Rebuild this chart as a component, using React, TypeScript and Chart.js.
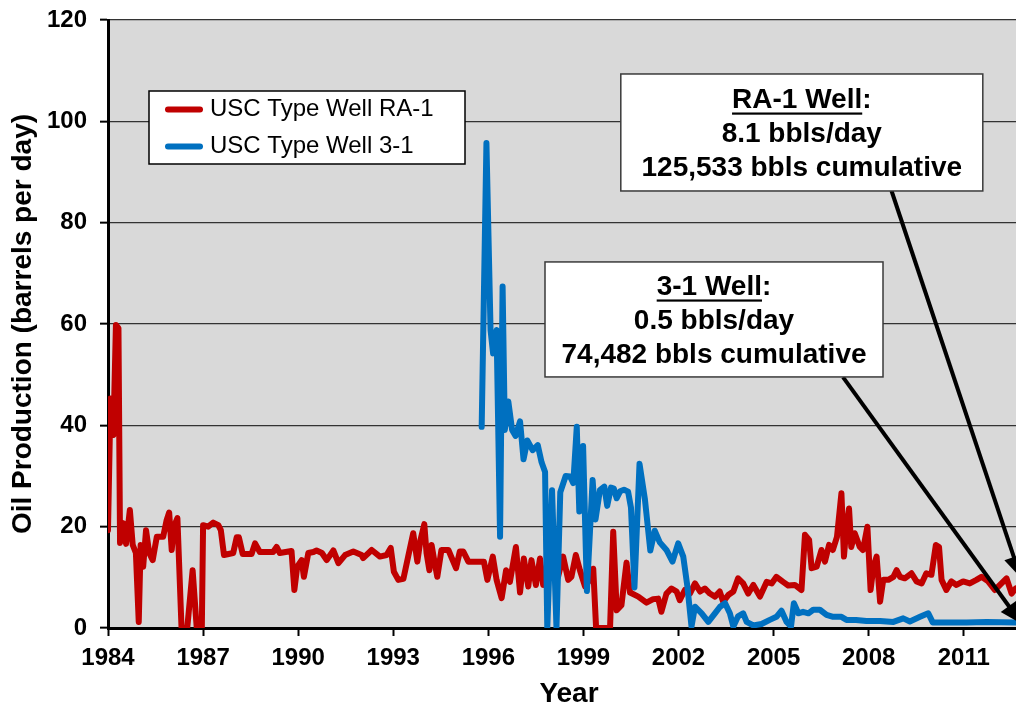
import React, { useEffect, useRef } from "react";
import { Chart, registerables } from "chart.js";

Chart.register(...registerables);

const FONT = "'Liberation Sans', Arial, Helvetica, sans-serif";

// ---- Data ----
const ra1Years = [
  1984.0, 1984.08, 1984.17, 1984.25, 1984.33, 1984.38, 1984.48, 1984.57, 1984.69, 1984.78,
  1984.88, 1984.97, 1985.03, 1985.11, 1985.2, 1985.3, 1985.41, 1985.54, 1985.74, 1985.85,
  1985.93, 1986.01, 1986.08, 1986.19, 1986.32, 1986.5, 1986.67, 1986.8, 1986.96, 1987.0,
  1987.16, 1987.32, 1987.48, 1987.56, 1987.66, 1987.95, 1988.06, 1988.13, 1988.25, 1988.53,
  1988.64, 1988.79, 1989.21, 1989.32, 1989.42, 1989.79, 1989.88, 1989.97, 1990.11, 1990.18,
  1990.32, 1990.48, 1990.58, 1990.75, 1990.9, 1991.11, 1991.27, 1991.48, 1991.74, 1992.0,
  1992.05, 1992.32, 1992.58, 1992.79, 1992.92, 1993.02, 1993.16, 1993.32, 1993.47, 1993.63,
  1993.76, 1993.86, 1993.98, 1994.05, 1994.14, 1994.21, 1994.28, 1994.39, 1994.52, 1994.74,
  1994.98, 1995.1, 1995.21, 1995.37, 1995.63, 1995.86, 1995.97, 1996.14, 1996.26, 1996.42,
  1996.56, 1996.68, 1996.87, 1997.0, 1997.12, 1997.26, 1997.36, 1997.5, 1997.63, 1997.73,
  1997.89, 1998.04, 1998.2, 1998.36, 1998.52, 1998.62, 1998.76, 1998.89, 1999.05, 1999.2,
  1999.31, 1999.4, 1999.84, 1999.94, 2000.05, 2000.2, 2000.36, 2000.47, 2000.73, 2000.99,
  2001.2, 2001.36, 2001.46, 2001.62, 2001.78, 2001.94, 2002.04, 2002.2, 2002.36, 2002.52,
  2002.68, 2002.83, 2002.99, 2003.15, 2003.3, 2003.41, 2003.57, 2003.73, 2003.88, 2004.04,
  2004.2, 2004.36, 2004.57, 2004.78, 2004.94, 2005.09, 2005.3, 2005.46, 2005.67, 2005.88,
  2005.99, 2006.12, 2006.2, 2006.36, 2006.51, 2006.62, 2006.75, 2006.87, 2007.0, 2007.14,
  2007.22, 2007.29, 2007.38, 2007.45, 2007.56, 2007.72, 2007.82, 2007.96, 2008.06, 2008.15,
  2008.25, 2008.36, 2008.46, 2008.62, 2008.78, 2008.88, 2008.99, 2009.14, 2009.35, 2009.51,
  2009.67, 2009.82, 2009.98, 2010.12, 2010.22, 2010.3, 2010.45, 2010.61, 2010.77, 2010.98,
  2011.19, 2011.4, 2011.56, 2011.77, 2011.98, 2012.19, 2012.35, 2012.51, 2012.64, 2012.8,
  2013.0,
];
const ra1Values = [
  19.3, 45.3, 38.1, 59.8, 59.2, 16.8, 20.7, 16.6, 23.3, 16.4,
  14.8, 1.2, 16.4, 12.1, 19.3, 14.8, 13.4, 18.0, 18.0, 21.3,
  22.8, 15.4, 20.0, 21.7, 0, 0, 11.4, 0, 0, 20.3,
  20.0, 20.8, 20.3, 19.3, 14.4, 14.8, 17.9, 17.9, 14.6, 14.6,
  16.7, 15.0, 15.0, 16.0, 14.8, 15.2, 7.5, 12.1, 13.4, 10.1,
  14.8, 15.0, 15.3, 14.8, 13.4, 15.3, 12.8, 14.4, 15.1, 14.4,
  13.8, 15.4, 14.1, 14.4, 15.8, 11.1, 9.5, 9.7, 14.1, 18.7,
  13.1, 17.4, 20.5, 14.8, 11.4, 16.4, 13.8, 10.1, 15.4, 15.4,
  11.8, 15.1, 15.1, 13.1, 13.1, 13.1, 9.5, 14.1, 9.5, 5.9,
  11.4, 9.1, 16.0, 7.0, 13.7, 8.2, 13.4, 8.5, 13.7, 8.5,
  12.8, 12.4, 10.1, 14.1, 9.5, 10.1, 14.4, 11.4, 8.2, 9.5,
  11.7, 0, 0, 19.0, 3.5, 4.5, 12.9, 7.0, 6.2, 5.0,
  5.7, 5.8, 3.2, 6.8, 7.8, 7.2, 5.5, 7.5, 6.8, 8.8,
  7.2, 7.8, 6.8, 6.2, 7.2, 5.2, 6.5, 7.2, 9.8, 8.8,
  6.8, 8.5, 6.2, 9.1, 8.8, 10.1, 9.1, 8.4, 8.5, 7.5,
  18.4, 17.4, 11.8, 12.1, 15.4, 13.1, 16.4, 15.4, 18.0, 26.6,
  14.1, 19.4, 23.6, 16.0, 18.7, 16.0, 15.4, 20.0, 7.5, 12.1,
  14.1, 5.2, 9.5, 9.5, 10.1, 11.4, 10.1, 9.8, 10.8, 9.2,
  8.8, 10.8, 10.5, 16.4, 16.0, 9.5, 7.5, 9.2, 8.5, 9.2,
  8.8, 9.5, 10.1, 9.2, 7.5, 8.8, 9.8, 6.8, 7.8, 8.1,
  8.1,
];

const w31Years = [
  1995.79, 1995.94, 1996.07, 1996.15, 1996.26, 1996.37, 1996.45, 1996.52, 1996.63, 1996.75,
  1996.86, 1997.0, 1997.11, 1997.23, 1997.4, 1997.56, 1997.68, 1997.79, 1997.86, 1998.01,
  1998.15, 1998.27, 1998.44, 1998.58, 1998.68, 1998.79, 1998.87, 1998.99, 1999.11, 1999.29,
  1999.38, 1999.52, 1999.66, 1999.75, 1999.87, 1999.96, 2000.05, 2000.16, 2000.28, 2000.41,
  2000.5, 2000.61, 2000.77, 2000.94, 2001.11, 2001.25, 2001.41, 2001.62, 2001.81, 2001.99,
  2002.15, 2002.28, 2002.41, 2002.52, 2002.73, 2002.94, 2003.15, 2003.31, 2003.47, 2003.62,
  2003.73, 2003.88, 2004.04, 2004.15, 2004.36, 2004.62, 2004.88, 2005.09, 2005.25, 2005.41,
  2005.55, 2005.64, 2005.78, 2005.93, 2006.1, 2006.25, 2006.46, 2006.67, 2006.88, 2007.14,
  2007.3, 2007.6, 2007.93, 2008.36, 2008.78, 2009.09, 2009.3, 2009.62, 2009.88, 2010.02,
  2010.45, 2011.09, 2011.72, 2012.64, 2013.0,
];
const w31Values = [
  39.7, 95.7, 58.8, 54.2, 58.8, 18.0, 67.4, 39.1, 44.7, 39.1,
  37.9, 40.8, 33.3, 37.0, 35.1, 36.1, 32.7, 30.8, 0, 27.2,
  0, 26.8, 30.0, 29.9, 28.6, 39.7, 23.0, 35.9, 7.3, 29.2,
  21.4, 27.2, 27.9, 24.1, 27.7, 27.5, 25.6, 27.0, 27.3, 26.9,
  23.8, 8.0, 32.4, 25.4, 15.3, 19.2, 16.9, 15.4, 13.1, 16.7,
  14.1, 8.2, 0.3, 4.2, 2.9, 1.2, 2.9, 4.2, 4.9, 2.9,
  0.3, 2.3, 2.9, 1.2, 0.5, 0.8, 1.6, 2.2, 3.4, 1.2,
  0.3, 4.9, 2.9, 3.2, 2.9, 3.6, 3.6, 2.6, 2.2, 2.2,
  1.6, 1.6, 1.4, 1.4, 1.2, 1.9, 1.3, 2.2, 2.9, 1.1,
  1.1, 1.1, 1.2, 1.1, 1.1,
];

const seriesNames = ["USC Type Well RA-1", "USC Type Well 3-1"];
const seriesColors = ["#c00000", "#0070c0"];
const xTickYears = [1984, 1987, 1990, 1993, 1996, 1999, 2002, 2005, 2008, 2011];
const xMin = 1984;
const xMax = 2013.09;
const yMin = 0;
const yMax = 120;
const yStep = 20;
const xTitle = "Year";
const yTitle = "Oil Production (barrels per day)";

const noteRA1Lines = ["RA-1 Well:", "8.1 bbls/day", "125,533 bbls cumulative"];
const note31Lines = ["3-1 Well:", "0.5 bbls/day", "74,482 bbls cumulative"];

// annotation anchors in data coordinates
const notes = [
  { cx: 2005.89, cy: 97.8, w: 362, h: 117, lines: noteRA1Lines, under: "RA-1 Well" },
  { cx: 2003.12, cy: 60.9, w: 338, h: 115, lines: note31Lines, under: "3-1 Well" },
];
const arrows = [
  { from: [2008.72, 86.3], to: [2012.8, 9.9] },
  { from: [2007.19, 49.5], to: [2012.83, 0.8] },
];

const bgPlugin = {
  id: "plotBg",
  beforeDraw(chart: any) {
    const { ctx, chartArea: a } = chart;
    ctx.save();
    ctx.fillStyle = "#d9d9d9";
    ctx.fillRect(a.left, a.top, a.right - a.left, a.bottom - a.top);
    ctx.restore();
  },
};

const overlayPlugin = {
  id: "overlay",
  afterDraw(chart: any) {
    const { ctx, chartArea: a } = chart;
    const xs = chart.scales.x;
    const ys = chart.scales.y;
    ctx.save();

    // Legend
    const lx = a.left + 41;
    const ly = a.top + 71;
    const lw = 316;
    const lh = 73;
    ctx.fillStyle = "#ffffff";
    ctx.fillRect(lx, ly, lw, lh);
    ctx.strokeStyle = "#000";
    ctx.lineWidth = 1.5;
    ctx.strokeRect(lx, ly, lw, lh);
    const rowY = [ly + 18.5, ly + 55.5];
    seriesNames.forEach((name, i) => {
      ctx.beginPath();
      ctx.lineCap = "round";
      ctx.lineWidth = 6;
      ctx.strokeStyle = seriesColors[i];
      ctx.moveTo(lx + 19, rowY[i]);
      ctx.lineTo(lx + 51, rowY[i]);
      ctx.stroke();
      ctx.fillStyle = "#000";
      ctx.font = `24px ${FONT}`;
      ctx.textAlign = "left";
      ctx.textBaseline = "middle";
      ctx.fillText(name, lx + 61, rowY[i]);
    });

    // Arrows
    ctx.lineCap = "butt";
    arrows.forEach((ar) => {
      const x0 = xs.getPixelForValue(ar.from[0]);
      const y0 = ys.getPixelForValue(ar.from[1]);
      const x1 = xs.getPixelForValue(ar.to[0]);
      const y1 = ys.getPixelForValue(ar.to[1]);
      const ang = Math.atan2(y1 - y0, x1 - x0);
      const L = 22;
      const H = 10;
      const bx = x1 - L * Math.cos(ang);
      const by = y1 - L * Math.sin(ang);
      ctx.beginPath();
      ctx.strokeStyle = "#000";
      ctx.lineWidth = 4;
      ctx.moveTo(x0, y0);
      ctx.lineTo(bx + 2 * Math.cos(ang), by + 2 * Math.sin(ang));
      ctx.stroke();
      ctx.beginPath();
      ctx.fillStyle = "#000";
      ctx.moveTo(x1, y1);
      ctx.lineTo(bx + H * Math.sin(ang), by - H * Math.cos(ang));
      ctx.lineTo(bx - H * Math.sin(ang), by + H * Math.cos(ang));
      ctx.closePath();
      ctx.fill();
    });

    // Note boxes
    notes.forEach((n) => {
      const cx = xs.getPixelForValue(n.cx);
      const cy = ys.getPixelForValue(n.cy);
      const left = cx - n.w / 2;
      const top = cy - n.h / 2;
      ctx.fillStyle = "#ffffff";
      ctx.fillRect(left, top, n.w, n.h);
      ctx.strokeStyle = "#3a3a3a";
      ctx.lineWidth = 1.5;
      ctx.strokeRect(left, top, n.w, n.h);
      ctx.fillStyle = "#000";
      ctx.font = `bold 28px ${FONT}`;
      ctx.textAlign = "center";
      ctx.textBaseline = "middle";
      const offs = [-32.5, 1.5, 35.5];
      n.lines.forEach((t, i) => {
        ctx.fillText(t, cx, cy + offs[i]);
      });
      const full = ctx.measureText(n.lines[0]).width;
      const uw = ctx.measureText(n.under).width;
      const ux = cx - full / 2;
      const uy = cy + offs[0] + 12.5;
      ctx.fillRect(ux, uy, uw, 2.2);
    });

    ctx.restore();
  },
};

export default function App() {
  const ref = useRef<HTMLCanvasElement | null>(null);

  useEffect(() => {
    if (!ref.current) return;
    const ra1 = ra1Years.map((x, i) => ({ x, y: ra1Values[i] }));
    const w31 = w31Years.map((x, i) => ({ x, y: w31Values[i] }));
    const tickFont = { family: FONT, size: 24, weight: "bold" as const };

    const chart = new Chart(ref.current, {
      type: "line",
      data: {
        datasets: [
          {
            label: seriesNames[0],
            data: ra1,
            borderColor: seriesColors[0],
            backgroundColor: seriesColors[0],
            borderWidth: 6,
            pointRadius: 0,
            tension: 0,
            borderJoinStyle: "round",
            borderCapStyle: "round",
            order: 2,
          },
          {
            label: seriesNames[1],
            data: w31,
            borderColor: seriesColors[1],
            backgroundColor: seriesColors[1],
            borderWidth: 6,
            pointRadius: 0,
            tension: 0,
            borderJoinStyle: "round",
            borderCapStyle: "round",
            order: 1,
          },
        ],
      },
      options: {
        responsive: false,
        maintainAspectRatio: false,
        devicePixelRatio: 1,
        animation: false,
        layout: { padding: { top: 20, left: 0, right: 0, bottom: 0 } },
        plugins: {
          legend: { display: false },
          tooltip: { enabled: false },
        },
        scales: {
          x: {
            type: "linear",
            position: "bottom",
            min: xMin,
            max: xMax,
            afterBuildTicks: (axis: any) => {
              axis.ticks = xTickYears.map((v) => ({ value: v }));
            },
            afterFit: (axis: any) => {
              axis.height = 77;
            },
            ticks: {
              font: tickFont,
              color: "#000",
              padding: 8,
              maxRotation: 0,
              autoSkip: false,
              callback: (v: any) => String(v),
            },
            grid: {
              drawOnChartArea: false,
              drawTicks: true,
              tickLength: 8,
              tickColor: "#000",
              tickWidth: 2,
            },
            border: { display: true, color: "#000", width: 3 },
            title: {
              display: true,
              text: xTitle,
              color: "#000",
              font: { family: FONT, size: 28, weight: "bold", lineHeight: 0.8 },
              padding: 0,
            },
          },
          y: {
            type: "linear",
            min: yMin,
            max: yMax,
            afterFit: (axis: any) => {
              axis.width = 108;
              axis.paddingTop = 0;
              axis.paddingBottom = 0;
            },
            ticks: {
              stepSize: yStep,
              font: tickFont,
              color: "#000",
              padding: 13,
            },
            grid: {
              color: "#333333",
              lineWidth: 1.3,
              tickLength: 8,
              tickColor: "#000",
              tickWidth: 2,
            },
            border: { display: true, color: "#000", width: 3 },
            title: {
              display: true,
              text: yTitle,
              color: "#000",
              font: { family: FONT, size: 28, weight: "bold" },
              padding: { top: 6, bottom: 0 },
            },
          },
        },
      },
      plugins: [bgPlugin, overlayPlugin],
    } as any);

    return () => chart.destroy();
  }, []);

  return (
    <div
      style={{
        position: "fixed",
        left: 0,
        top: 0,
        width: 1016,
        height: 705,
        overflow: "hidden",
        background: "#ffffff",
      }}
    >
      <canvas ref={ref} width={1030} height={705} style={{ display: "block", width: 1030, height: 705 }} />
    </div>
  );
}
